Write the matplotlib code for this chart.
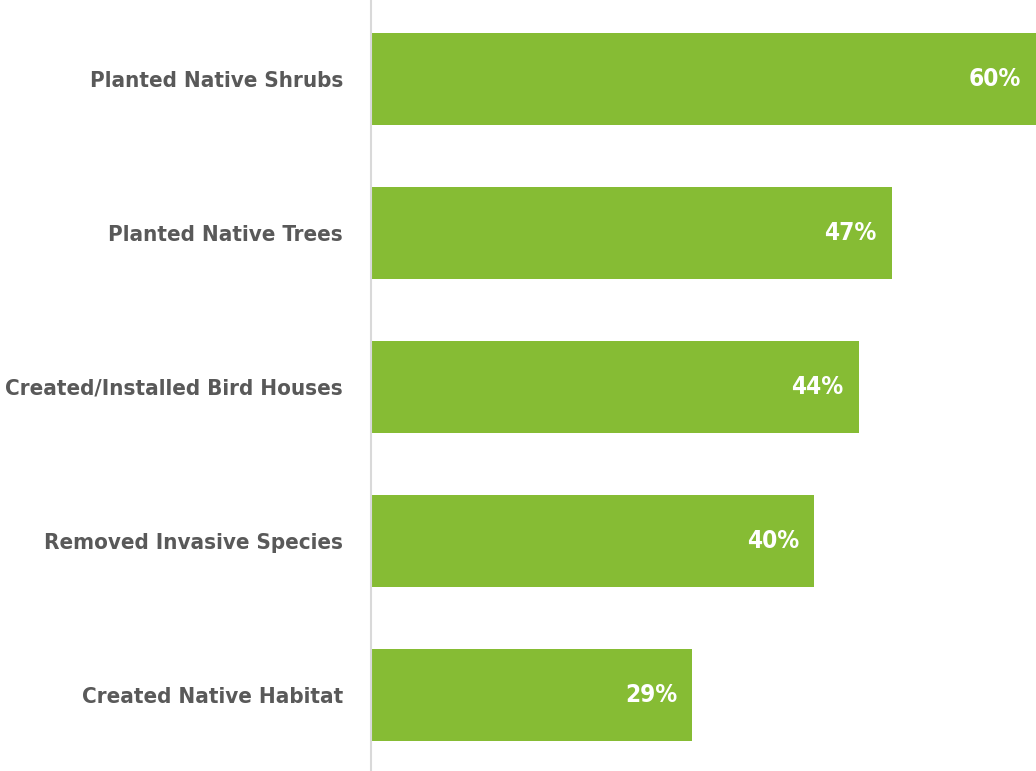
import matplotlib
matplotlib.use("Agg")
import matplotlib.pyplot as plt
from matplotlib import font_manager

categories = ["Planted Native Shrubs", "Planted Native Trees", "Created/Installed Bird Houses",
              "Removed Invasive Species", "Created Native Habitat"]
values = [60, 47, 44, 40, 29]
value_labels = ["60%", "47%", "44%", "40%", "29%"]

fonts = font_manager.fontManager.ttflist
props = {}
if any(f.name == "Liberation Sans Narrow" for f in fonts):
    family = ["Liberation Sans Narrow", "DejaVu Sans"]
    label_size, value_size = 19, 20
elif any(f.name == "DejaVu Sans" and f.stretch in ("condensed", "semi-condensed") for f in fonts):
    family = ["DejaVu Sans", "DejaVu Sans"]
    props = {"fontstretch": "condensed"}
    label_size, value_size = 16, 17.5
else:
    family = ["Liberation Sans", "DejaVu Sans"]
    label_size, value_size = 17, 19
plt.rcParams['font.family'] = family

fig = plt.figure(figsize=(10.36, 7.71), dpi=100)
ax = fig.add_axes([371/1036, 0, 1 - 371/1036, 1])

y = list(range(len(categories)))
ax.barh(y, values, height=0.6, color="#86BC34")
ax.set_xlim(0, 60)
ax.set_ylim(4.494, -0.513)
ax.set_yticks(y)
ax.set_yticklabels(categories, fontsize=label_size, fontweight="bold", color="#595959", **props)
ax.tick_params(axis="y", length=0, pad=20)
ax.set_xticks([])
for s in ["top", "right", "bottom"]:
    ax.spines[s].set_visible(False)
ax.spines["left"].set_color("#D9D9D9")
ax.spines["left"].set_linewidth(1.5)

for yi, v, lab in zip(y, values, value_labels):
    ax.annotate(lab, xy=(v, yi), xytext=(-11, 0), textcoords="offset points",
                ha="right", va="center", fontsize=value_size, fontweight="bold", color="white", **props)

fig.savefig("out.png", dpi=100)
